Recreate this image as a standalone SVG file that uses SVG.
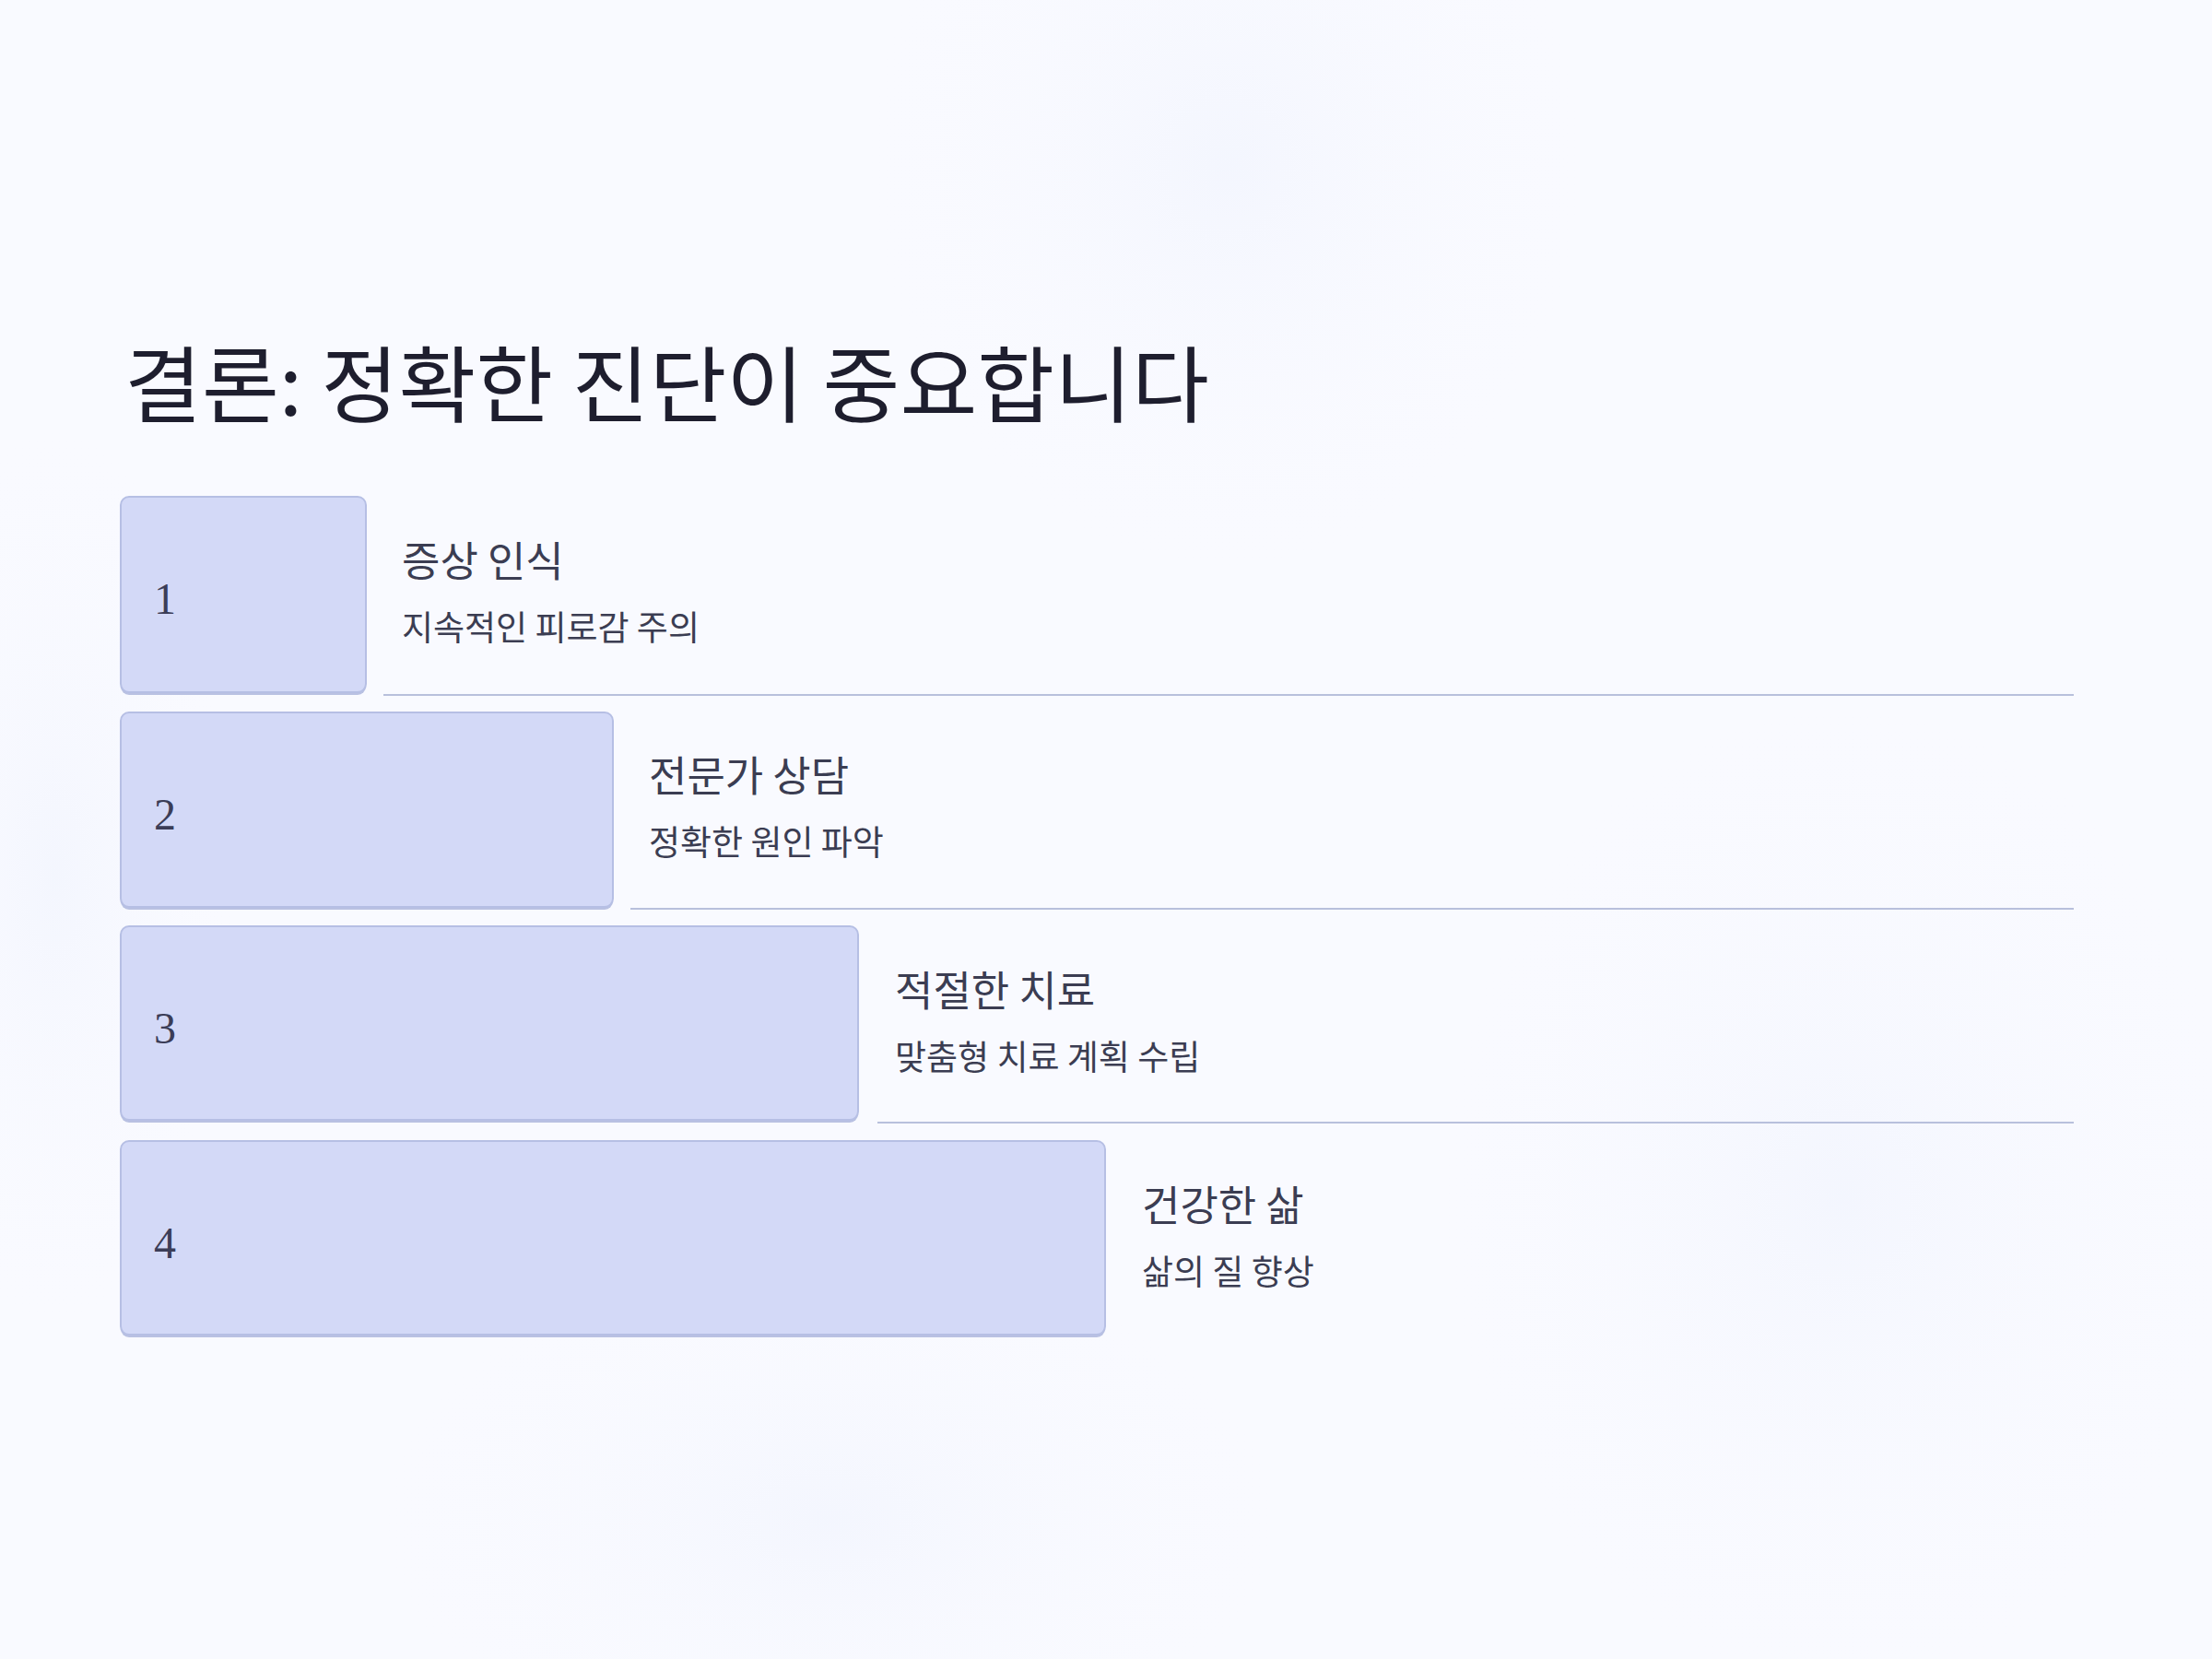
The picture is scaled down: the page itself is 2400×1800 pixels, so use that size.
<svg xmlns="http://www.w3.org/2000/svg" width="2400" height="1800" viewBox="0 0 2400 1800">
<defs>
<radialGradient id="g1" cx="0.5" cy="0.5" r="0.5"><stop offset="0" stop-color="#eef2fd" stop-opacity="0.5"/><stop offset="1" stop-color="#f9faff" stop-opacity="0"/></radialGradient>
<style>
.box{fill:#d3d9f7;stroke:#b6bfe4;stroke-width:2}
.shadow{fill:#b9c1e2}
.num{font-family:"Liberation Serif",serif;font-size:48px;fill:#3b3d57}
.h{font-family:"Noto Sans CJK KR","Noto Sans",sans-serif;font-size:45px;fill:#3b3d52}
.s{font-family:"Noto Sans CJK KR","Noto Sans",sans-serif;font-size:37px;fill:#3b3d52}
.rule{stroke:#b8c0dc;stroke-width:2}
</style>
</defs>
<rect width="2400" height="1800" fill="#f9faff"/>
<ellipse cx="1330" cy="180" rx="400" ry="450" fill="url(#g1)"/>
<ellipse cx="2000" cy="1300" rx="450" ry="550" fill="url(#g1)"/>
<ellipse cx="900" cy="1650" rx="500" ry="300" fill="url(#g1)"/>
<ellipse cx="60" cy="950" rx="200" ry="500" fill="url(#g1)"/>
<text x="135" y="451" font-family="'Noto Sans CJK KR','Noto Sans',sans-serif" font-size="90" fill="#1e1e2e" textLength="1177" lengthAdjust="spacingAndGlyphs">결론: 정확한 진단이 중요합니다</text>
<g id="connectors">
<line class="rule" x1="416" y1="754" x2="2250" y2="754"/>
<line class="rule" x1="684" y1="986" x2="2250" y2="986"/>
<line class="rule" x1="952" y1="1218" x2="2250" y2="1218"/>
</g>
<g id="step1">
<rect class="shadow" x="131" y="541" width="266" height="213" rx="9"/>
<rect class="box" x="131" y="539" width="266" height="212" rx="9"/>
<text class="num" x="167" y="666">1</text>
<text class="h" x="436" y="626">증상 인식</text>
<text class="s" x="436" y="695">지속적인 피로감 주의</text>
</g>
<g id="step2">
<rect class="shadow" x="131" y="775" width="534" height="212" rx="9"/>
<rect class="box" x="131" y="773" width="534" height="211" rx="9"/>
<text class="num" x="167" y="900">2</text>
<text class="h" x="704" y="859">전문가 상담</text>
<text class="s" x="704" y="928">정확한 원인 파악</text>
</g>
<g id="step3">
<rect class="shadow" x="131" y="1007" width="800" height="211" rx="9"/>
<rect class="box" x="131" y="1005" width="800" height="210" rx="9"/>
<text class="num" x="167" y="1132">3</text>
<text class="h" x="971" y="1092">적절한 치료</text>
<text class="s" x="971" y="1161">맞춤형 치료 계획 수립</text>
</g>
<g id="step4">
<rect class="shadow" x="131" y="1240" width="1068" height="211" rx="9"/>
<rect class="box" x="131" y="1238" width="1068" height="210" rx="9"/>
<text class="num" x="167" y="1365">4</text>
<text class="h" x="1239" y="1325">건강한 삶</text>
<text class="s" x="1239" y="1394">삶의 질 향상</text>
</g>
</svg>
